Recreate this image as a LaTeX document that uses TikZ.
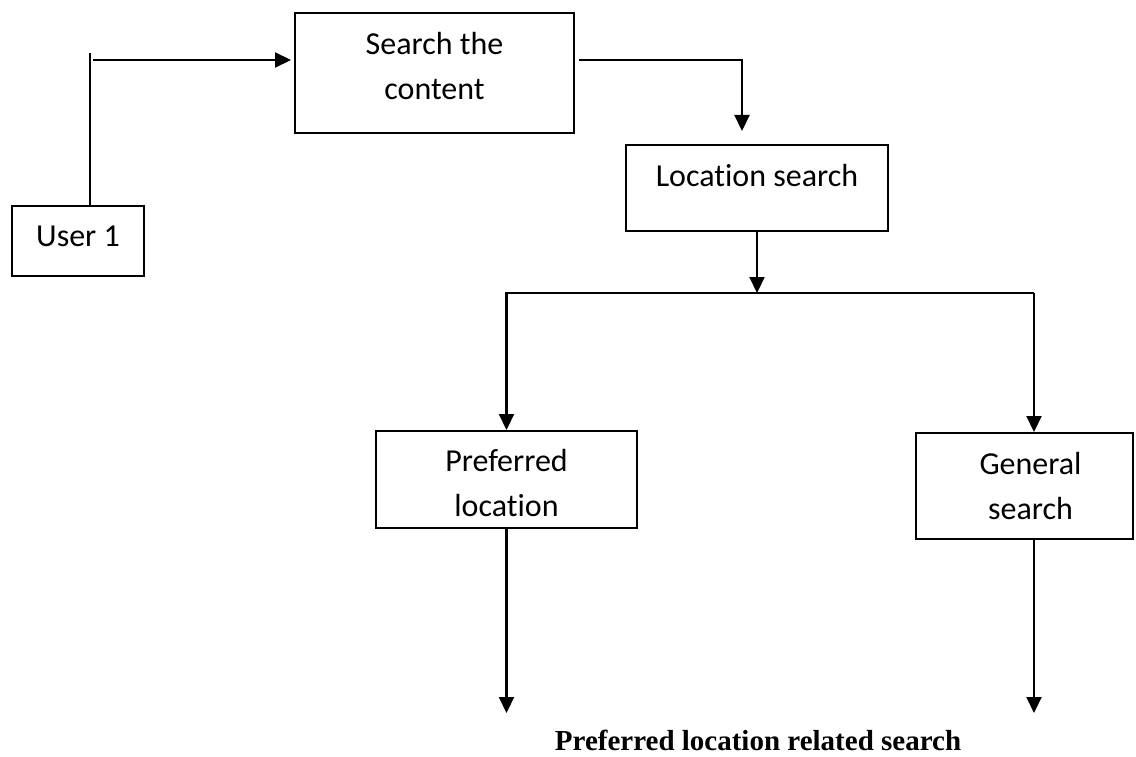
\documentclass[tikz,border=0pt]{standalone}
\usepackage{fontspec}
\setmainfont{Carlito}[Ligatures={NoCommon,NoContextual}]
\newfontfamily\capfont{Liberation Serif}
\usetikzlibrary{arrows.meta}

\begin{document}
\begin{tikzpicture}[x=1pt,y=-1pt,
		box/.style={draw,line width=2pt,inner sep=0pt},
		txt/.style={font=\fontsize{32}{45}\selectfont,align=center,inner sep=0pt},
		arr/.style={line width=2.2pt,-{Triangle[length=16pt,width=15pt]}}]
	\useasboundingbox (0,0) rectangle (1136,757);
		\node(user)[box,minimum width=132pt,minimum height=70pt,label={[txt,label distance=-42pt]90:{User 1}}] at (78,241) {};
		\node(search)[box,minimum width=279pt,minimum height=120pt,label={[txt,label distance=-88pt]90:{Search the\\content}}] at (434.5,73) {};
		\node(loc)[box,minimum width=262pt,minimum height=86pt,label={[txt,label distance=-43pt]90:{Location search}}] at (757,188) {};
		\node(pref)[box,minimum width=261pt,minimum height=97pt,label={[txt,label distance=-87pt]90:{Preferred\\location}}] at (506.5,479.5) {};
		\node(gen)[box,minimum width=217pt,minimum height=106pt,label={[txt,xshift=6pt,label distance=-88pt]90:{General\\search}}] at (1024.5,486) {};
		\node(cap)[anchor=base,inner sep=0pt,font=\capfont\bfseries\fontsize{29}{35}\selectfont] at (758,750) {Preferred location related search};
		\coordinate(u1) at (90,53);
		\coordinate(u2) at (93,60);
		\coordinate(s1) at (742,60);
		\coordinate(split) at (757,293);
		\coordinate(gx) at (1034,293);
		\coordinate(pend) at (506,713);
		\draw[line width=2.2pt] (u1 |- user.north) -- (u1);
		\draw[arr,shorten >=3pt] (u2) -- (u2 -| search.west);
		\draw[arr,shorten <=4pt,shorten >=13pt] (s1 -| search.east) -- (s1) -- (s1 |- loc.north);
		\draw[arr] (loc.south) -- (split);
		\draw[arr] (gx) -- (split -| pref.north) -- (pref.north);
		\draw[arr] (gx) -- (gx |- gen.north);
		\draw[arr] (pref.south) -- (pref.south |- pend);
		\draw[arr] (gx |- gen.south) -- (gx |- pend);
\end{tikzpicture}
\end{document}
